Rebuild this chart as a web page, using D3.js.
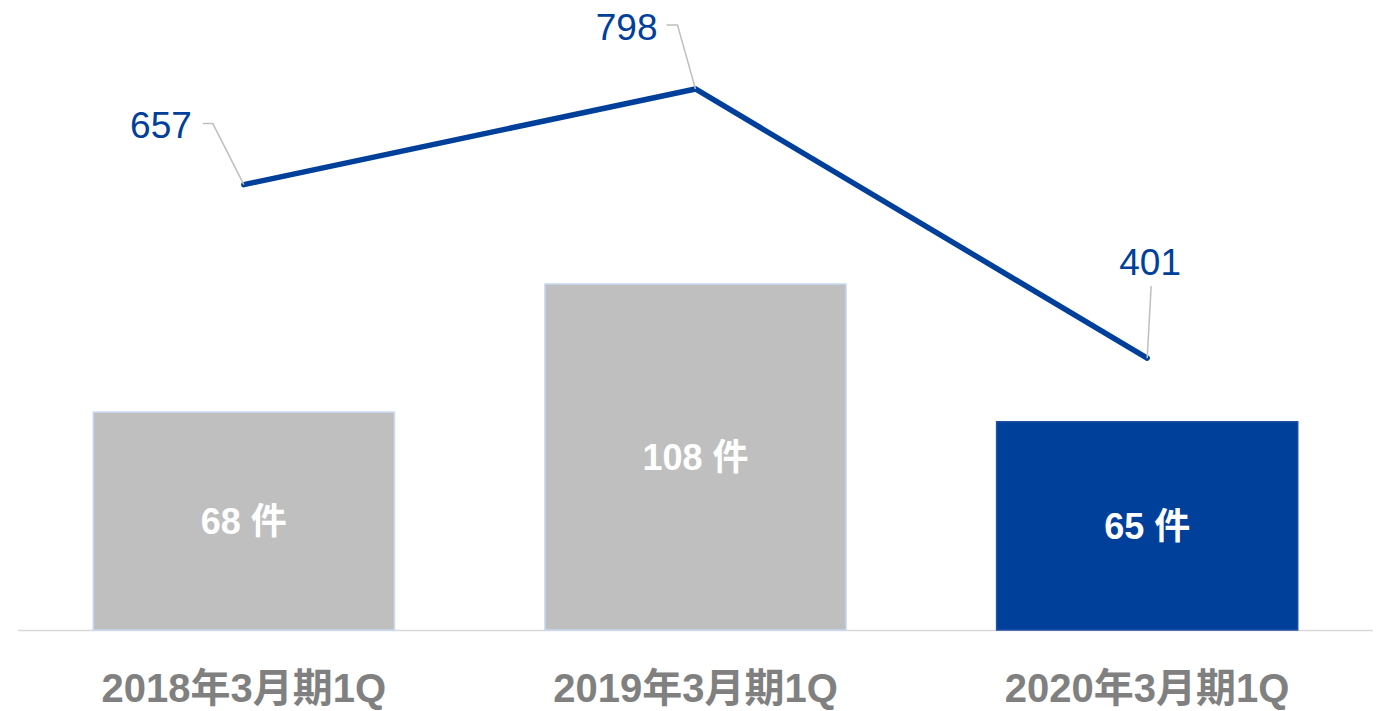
<!DOCTYPE html>
<html>
<head>
<meta charset="utf-8">
<script src="https://cdn.jsdelivr.net/npm/d3@7"></script>
<style>
  body { margin: 0; background: #fff; }
  svg { display: block; font-family: "Liberation Sans", Arial, "Noto Sans CJK JP", sans-serif; }
</style>
</head>
<body>
<svg id="chart" width="1379" height="711"></svg>
<script>
const categories = ["2018年3月期1Q", "2019年3月期1Q", "2020年3月期1Q"];
const barValues = [68, 108, 65];
const lineValues = [657, 798, 401];
const barColors = ["#bfbfbf", "#bfbfbf", "#00409a"];

const svg = d3.select("#chart");
const baseline = 630;

// category scale
const x = d3.scaleBand().domain(categories).range([18, 1373]).paddingInner(1 / 3).paddingOuter(1 / 6);
// bars and line use separate axes (hidden)
const yBar = d3.scaleLinear().domain([0, 108]).range([baseline, 284]);
const yLine = d3.scaleLinear().domain([0, 798]).range([baseline, 89]);

// baseline
svg.append("line")
  .attr("x1", 18).attr("x2", 1373)
  .attr("y1", baseline + 0.5).attr("y2", baseline + 0.5)
  .attr("stroke", "#d9d9d9").attr("stroke-width", 1.5);

// bars
svg.selectAll(".bar")
  .data(barValues)
  .enter()
  .append("rect")
  .attr("class", "bar")
  .attr("x", (d, i) => x(categories[i]))
  .attr("y", (d) => yBar(d))
  .attr("width", x.bandwidth())
  .attr("height", (d) => baseline - yBar(d))
  .attr("fill", (d, i) => barColors[i])
  .attr("stroke", (d, i) => (i < 2 ? "#c6d9f1" : "#1f4fa0"))
  .attr("stroke-width", 1.5);

// bar labels
svg.selectAll(".bar-label")
  .data(barValues)
  .enter()
  .append("text")
  .attr("x", (d, i) => x(categories[i]) + x.bandwidth() / 2)
  .attr("y", (d) => (yBar(d) + baseline) / 2)
  .attr("dy", "0.36em")
  .attr("text-anchor", "middle")
  .attr("fill", "#fff")
  .attr("font-weight", "bold")
  .attr("font-size", 36)
  .text((d) => `${d} 件`);

// line
const cx = (i) => x(categories[i]) + x.bandwidth() / 2;
svg.append("path")
  .datum(lineValues)
  .attr("fill", "none")
  .attr("stroke", "#00409a")
  .attr("stroke-width", 5.5)
  .attr("stroke-linecap", "round")
  .attr("d", d3.line().x((d, i) => cx(i)).y((d) => yLine(d)));

// leader lines + labels for the line series
const labelPos = [
  { dx: -52, dy: -60, anchor: "end", leader: [[-41, -61], [-31, -61]] },
  { dx: -38, dy: -62, anchor: "end", leader: [[-29, -64], [-18, -64]] },
  { dx: 3, dy: -96, anchor: "middle", leader: [[4, -72]] },
];
lineValues.forEach((v, i) => {
  const px = cx(i), py = yLine(v);
  const p = labelPos[i];
  const pts = p.leader.map(([a, b]) => [px + a, py + b]).concat([[px, py]]);
  svg.append("path")
    .attr("d", d3.line()(pts))
    .attr("fill", "none")
    .attr("stroke", "#bfbfbf")
    .attr("stroke-width", 1.5);
  svg.append("text")
    .attr("x", px + p.dx)
    .attr("y", py + p.dy)
    .attr("dy", "0.36em")
    .attr("text-anchor", p.anchor)
    .attr("fill", "#00409a")
    .attr("font-size", 37)
    .text(v);
});

// category axis labels
svg.selectAll(".cat")
  .data(categories)
  .enter()
  .append("text")
  .attr("x", (d) => x(d) + x.bandwidth() / 2)
  .attr("y", 702)
  .attr("text-anchor", "middle")
  .attr("fill", "#808080")
  .attr("font-weight", "bold")
  .attr("font-size", 40)
  .text((d) => d);
</script>
</body>
</html>
